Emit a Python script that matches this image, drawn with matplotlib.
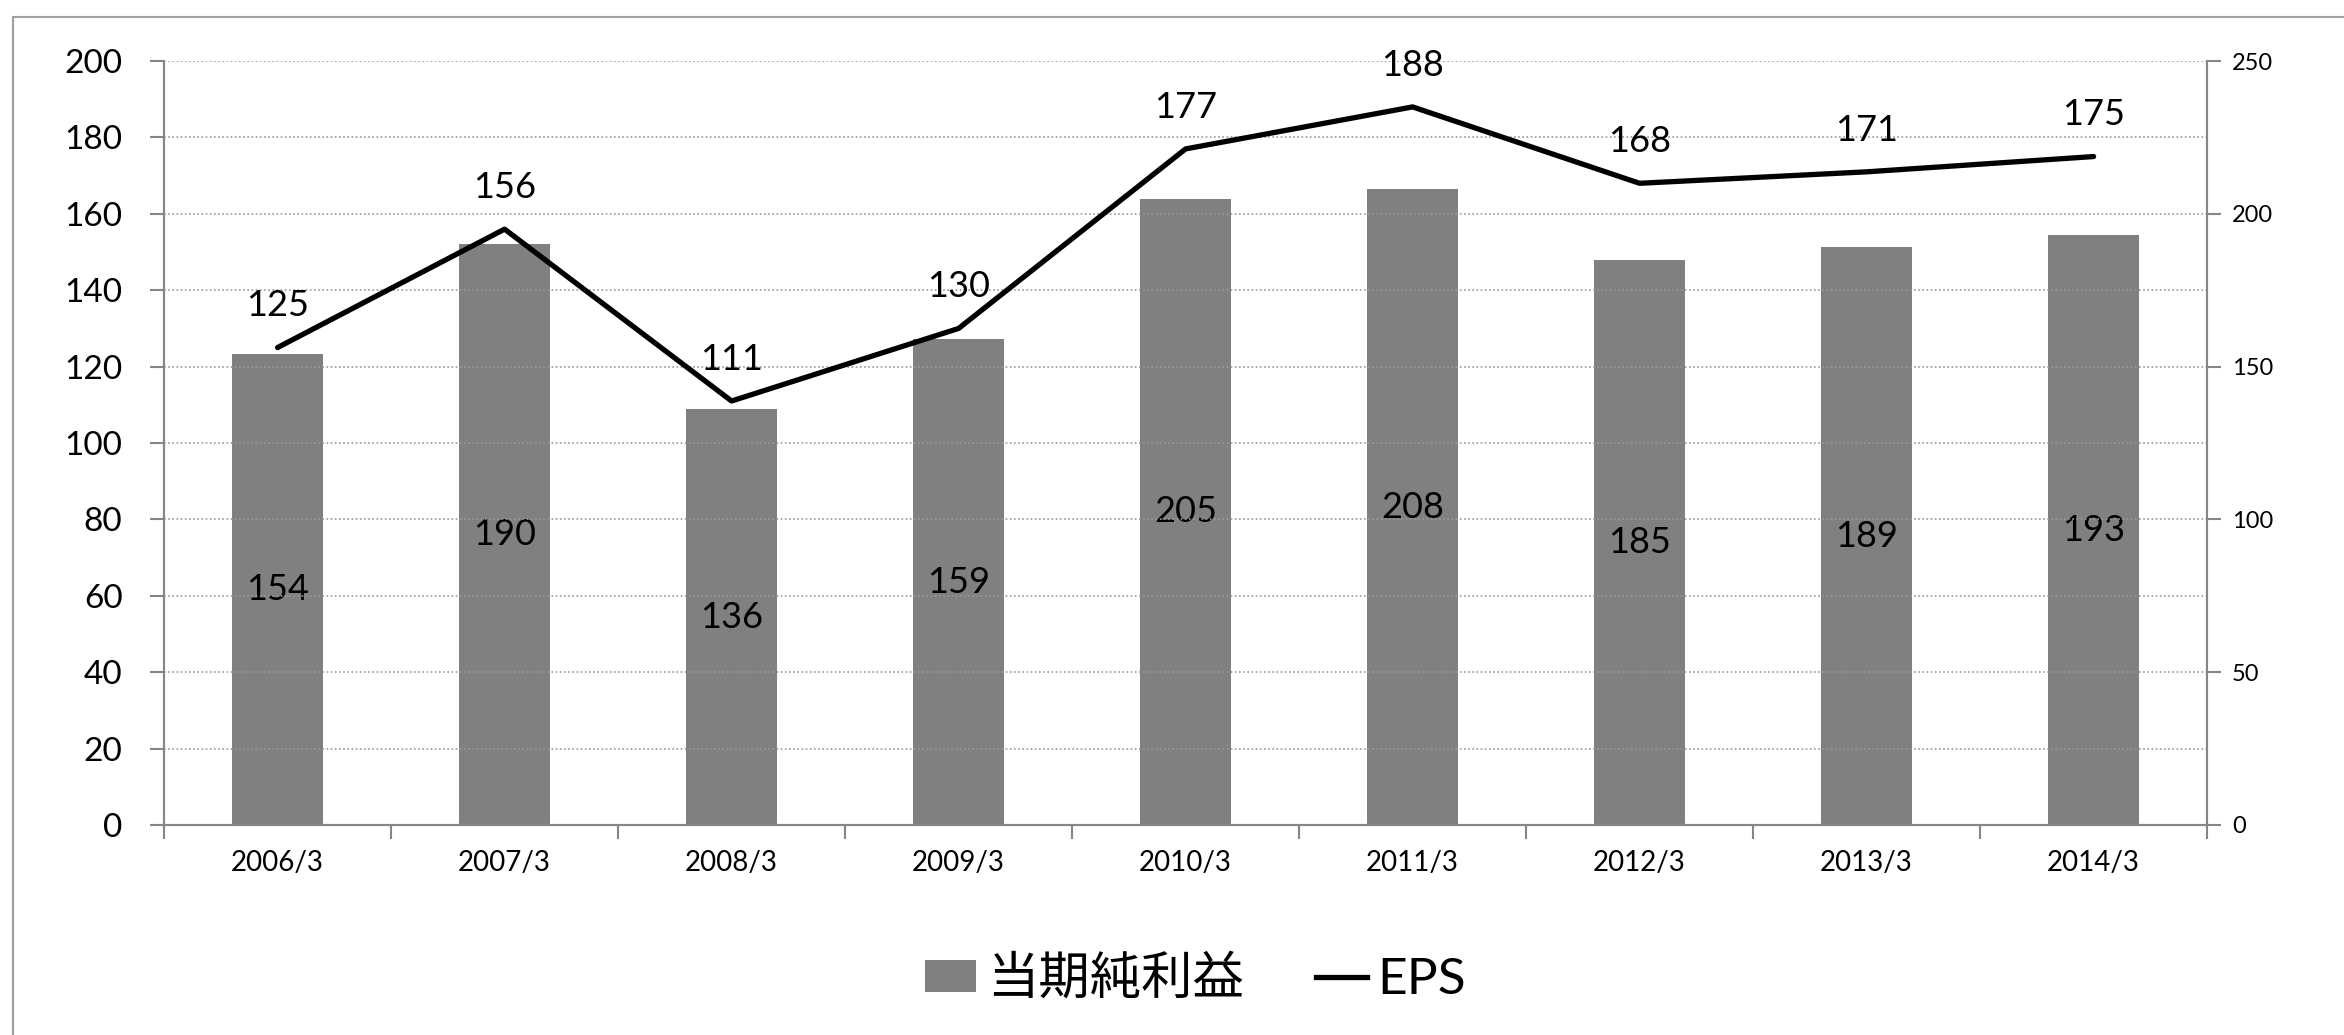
import matplotlib
matplotlib.use("Agg")
import matplotlib.pyplot as plt
import numpy as np
from matplotlib.lines import Line2D
from matplotlib.patches import Patch

plt.rcParams['font.family'] = ['Lato', 'Noto Sans CJK JP', 'DejaVu Sans']

# data
years = ['2006/3', '2007/3', '2008/3', '2009/3', '2010/3',
         '2011/3', '2012/3', '2013/3', '2014/3']
net_income = [154, 190, 136, 159, 205, 208, 185, 189, 193]   # bars, right axis
eps = [125, 156, 111, 130, 177, 188, 168, 171, 175]          # line, left axis

bar_color = '#808080'
axis_color = '#868686'

fig = plt.figure(figsize=(23.44, 10.35), dpi=100)
ax = fig.add_axes([0.070, 0.2029, 0.8716, 0.7381])
ax2 = ax.twinx()

x = np.arange(len(years))

# bars on secondary axis, line on primary axis
ax2.bar(x, net_income, width=0.4, color=bar_color, zorder=2)
ax.set_zorder(ax2.get_zorder() + 1)
ax.patch.set_visible(False)
ax.plot(x, eps, color='black', lw=3.8, solid_capstyle='round', zorder=3)

# labels
for xi, v in zip(x, net_income):
    ax2.text(xi, v / 2, str(v), ha='center', va='center', fontsize=26)
for xi, v in zip(x, eps):
    ax.annotate(str(v), (xi, v), xytext=(0, 30), textcoords='offset points',
                ha='center', va='center', fontsize=26)

# axes
ax.set_xlim(-0.5, len(years) - 0.5)
ax.set_ylim(0, 200)
ax2.set_ylim(0, 250)
ax.set_yticks(np.arange(0, 201, 20))
ax2.set_yticks(np.arange(0, 251, 50))
ax.set_xticks(x)
ax.set_xticklabels(years, fontsize=20)
ax.set_xticks(np.arange(-0.5, len(years)), minor=True)
ax.tick_params(axis='x', which='major', length=0, pad=18)
ax.tick_params(axis='x', which='minor', length=10, width=1.5, color=axis_color)
ax.tick_params(axis='y', labelsize=24, length=10, width=1.5, color=axis_color, pad=20)
ax2.tick_params(axis='y', labelsize=17, length=10, width=1.5, color=axis_color, pad=8)

ax.grid(axis='y', ls=(0, (1, 1.5)), color='#999999', lw=1.2, zorder=0)
ax.set_axisbelow(True)

for a in (ax, ax2):
    a.spines['top'].set_visible(False)
    for s in ('left', 'right', 'bottom'):
        a.spines[s].set_color(axis_color)
        a.spines[s].set_linewidth(1.5)

# legend
handles = [Patch(facecolor=bar_color, edgecolor='none'),
           Line2D([0], [0], color='black', lw=3.8)]
fig.legend(handles, ['当期純利益', 'EPS'], loc='center', bbox_to_anchor=(0.51, 0.054),
           ncol=2, frameon=False, fontsize=37, handlelength=1.0, handleheight=0.6,
           handletextpad=0.2, columnspacing=1.4)

# outer chart frame
fig.add_artist(Line2D([0.0055, 1.0], [0.9836, 0.9836], transform=fig.transFigure,
                      color='#a0a0a0', lw=1.5))
fig.add_artist(Line2D([0.0055, 0.0055], [0.0, 0.9836], transform=fig.transFigure,
                      color='#a0a0a0', lw=1.5))

fig.savefig('out.png', dpi=100)
